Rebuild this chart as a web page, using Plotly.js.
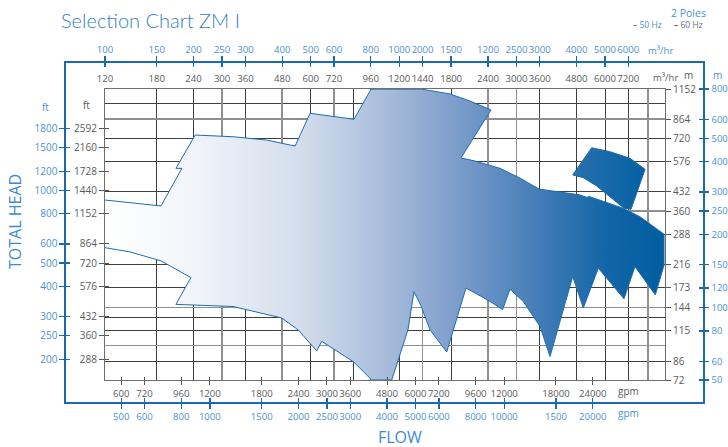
<!DOCTYPE html>
<html><head><meta charset="utf-8">
<script src="https://cdn.plot.ly/plotly-3.0.1.min.js"></script>
<style>html,body{margin:0;padding:0;background:#fff}#chart{width:728px;height:447px}</style>
</head><body><div id="chart"></div>
<script>
// Envelope of the ZM I range, 60 Hz units: flow in m3/hr, head in m
const mainFlow = [120,186,219,209,243,327,425,531,597,842,962,1430,1785,2087,2459,2022,1944,2170,2639,3085,3580,4933,5212,5294,6907,7890,9522,9522,8896,7586,6961,5695,5063,4660,3902,3608,3166,2853,2694,2402,2120,2022,1739,1527,1422,1346,1284,1131,967,838,671,654,629,544,478,327,209,235,186,146,120];
const mainHead = [400,378,541,541,743,731,708,669,914,863,1150,1150,1099,1027,943,638,597,580,541,493,444,420,410,414,370,341,289,215,162,212,156,209,143,193,90,120,152,171,141,154,168,173,94,116,146,167,116,72,72,85.7,102,104,95,116,130,145,148,191,224,244,254];
// separate upper piece
const pieceFlow = [4660,5407,6238,7295,8207,7352,6961,6238,5624,5063,4660];
const pieceHead = [508,658,634,595,536,366,370,413,457,495,508];

// axis ticks
const flow60Ticks = [120,180,240,300,360,480,600,720,960,1200,1440,1800,2400,3000,3600,4800,6000,7200];
const flow50Labels = ['100','150','200','250','300','400','500','600','800','1000','2000','1500','1200','2500','3000','4000','5000','6000'];
const gpm60Ticks = [600,720,960,1200,1800,2400,3000,3600,4800,6000,7200,9600,12000,18000,24000];
const gpm50Labels = ['500','600','800','1000','1500','2000','2500','3000','4000','5000','6000','8000','10000','1500','20000'];
const ft60Ticks = [288,360,432,576,720,864,1152,1440,1728,2160,2592];
const ft50Labels = ['200','250','300','400','500','600','800','1000','1200','1500','1800'];
const m60Ticks = [72,86,115,144,173,216,288,360,432,576,720,864,1152];
const m50Labels = ['50','60','80','100','120','150','200','250','300','400','500','600','800'];

// grid
const gridFlowDark = [180,240,360,600,840,1200,1800,3600,4800,6000,7200];
const gridFlowLight = [300,480,720,960,1440,2400,3000,8400];
const gridHeadDark = [1000,720,576,432,288,216,173,130,115,86];
const gridHeadLight = [864,360,144,100];

const GPM = 4.403, FT = 3.281;
const XR = [2.07918, 3.98200], YR = [1.85733, 3.06145];
const XRO = [1.94666, 4.11112], YRO = [1.76630, 3.16904];
const DX = [0.06122, 0.94035], DY = [0.0649, 0.9233];

const grayFont = {family:'Open Sans, sans-serif', size:10, color:'#5a5a5a'};
const blueFont = {family:'Open Sans, sans-serif', size:10, color:'#4b91cf'};
const grayFontX = Object.assign({}, grayFont, {size:9.6});
const blueFontX = Object.assign({}, blueFont, {size:9.6});
const BLUE = '#1b6aad';

const gradScale = [[0,'#ffffff'],[0.17,'#f0f3f9'],[0.35,'#d3ddec'],[0.5,'#a8bddb'],[0.62,'#809fcb'],[0.71,'#5d8bc0'],[0.8,'#3a78b3'],[0.89,'#1467a8'],[1,'#005d9f']];

const traces = [
  {type:'scatter', mode:'lines', x:mainFlow, y:mainHead, fill:'toself',
   fillgradient:{type:'horizontal', colorscale:gradScale},
   line:{color:'#1e6db0', width:1}, xaxis:'x', yaxis:'y', hoverinfo:'skip', showlegend:false},
  {type:'scatter', mode:'lines', x:pieceFlow, y:pieceHead, fill:'toself',
   fillgradient:{type:'horizontal', colorscale:[[0,'#2a70ae'],[1,'#0461a2']]},
   line:{color:'#1a69aa', width:1}, xaxis:'x', yaxis:'y', hoverinfo:'skip', showlegend:false}
];
// invisible anchor traces so that every axis pair exists as a subplot
[['x2','y2'],['x3','y'],['x4','y'],['x9','y'],['x','y3'],['x','y4'],['x','y9'],
 ['x5','y5'],['x6','y5'],['x7','y5'],['x8','y5'],['x5','y6'],['x5','y7'],['x5','y8']].forEach(p => {
  traces.push({type:'scatter', mode:'markers', x:[1000], y:[300], xaxis:p[0], yaxis:p[1],
               marker:{opacity:0, size:1}, hoverinfo:'skip', showlegend:false});
});

const base = {type:'log', visible:true, fixedrange:true, zeroline:false, showgrid:false, tickangle:0, automargin:false};
function ax(o){ return Object.assign({}, base, o); }

const gpmPos = gpm60Ticks.map(g => g / GPM);
const ftPos = ft60Ticks.map(f => f / FT);

function ann(text, x, y, font, extra){
  return Object.assign({text:text, xref:'paper', yref:'paper', x:x, y:y, xanchor:'center', yanchor:'middle',
                        showarrow:false, font:font}, extra || {});
}

const layout = {
  width:728, height:447,
  margin:{l:66, r:25, t:63, b:45, pad:0},
  paper_bgcolor:'#ffffff', plot_bgcolor:'rgba(0,0,0,0)',
  showlegend:false,
  title:{text:'Selection Chart ZM I', x:61/728, xref:'container', xanchor:'left',
         y:1-21/447, yref:'container', yanchor:'middle',
         font:{family:'Lato, sans-serif', size:20, color:'#3580c2', weight:300}},
  // inner grid / frame
  xaxis: ax({range:XR, domain:DX, anchor:'y', tickvals:gridFlowDark, showticklabels:false, ticks:'',
             showgrid:true, gridcolor:'#3f3f3f', gridwidth:1, showline:true, linecolor:'#6e6e6e', linewidth:1.3, mirror:true}),
  yaxis: ax({range:YR, domain:DY, anchor:'x', tickvals:gridHeadDark, showticklabels:false, ticks:'',
             showgrid:true, gridcolor:'#3f3f3f', gridwidth:1, showline:true, linecolor:'#6e6e6e', linewidth:1.3, mirror:true}),
  xaxis2: ax({range:XR, overlaying:'x', anchor:'y', tickvals:gridFlowLight, showticklabels:false, ticks:'',
             showgrid:true, gridcolor:'#8f8f8f', gridwidth:1.4}),
  yaxis2: ax({range:YR, overlaying:'y', anchor:'x', tickvals:gridHeadLight, showticklabels:false, ticks:'',
             showgrid:true, gridcolor:'#8f8f8f', gridwidth:1.4}),
  // inner labelled axes (60 Hz)
  xaxis3: ax({range:XR, overlaying:'x', anchor:'y', side:'top', tickvals:flow60Ticks, ticktext:flow60Ticks.map(String),
             ticks:'outside', ticklen:2, tickcolor:'rgba(0,0,0,0)', tickfont:grayFontX}),
  xaxis4: ax({range:XR, overlaying:'x', anchor:'y', side:'bottom', tickvals:gpmPos, ticktext:gpm60Ticks.map(String),
             ticks:'outside', ticklen:4, tickcolor:'#555', tickwidth:1, tickfont:grayFontX}),
  xaxis9: ax({range:XR, overlaying:'x', anchor:'y', side:'bottom', tickvals:gpmPos, showticklabels:false,
             ticks:'inside', ticklen:3, tickcolor:'#555', tickwidth:1}),
  yaxis3: ax({range:YR, overlaying:'y', anchor:'x', side:'left', tickvals:ftPos, ticktext:ft60Ticks.map(String),
             ticks:'outside', ticklen:5, tickcolor:'#555', tickwidth:1, tickfont:grayFont}),
  yaxis9: ax({range:YR, overlaying:'y', anchor:'x', side:'left', tickvals:ftPos, showticklabels:false,
             ticks:'inside', ticklen:4, tickcolor:'#555', tickwidth:1}),
  yaxis4: ax({range:YR, overlaying:'y', anchor:'x', side:'right', tickvals:m60Ticks, ticktext:m60Ticks.map(String),
             ticks:'outside', ticklen:5, tickcolor:'#555', tickwidth:1, tickfont:grayFont}),
  // outer frame axes (50 Hz)
  xaxis5: ax({range:XRO, domain:[0,1], anchor:'y5', side:'top', tickvals:flow60Ticks, ticktext:flow50Labels,
             ticks:'outside', ticklen:5, tickcolor:BLUE, tickwidth:1.3, tickfont:blueFontX,
             showline:true, linecolor:BLUE, linewidth:1.6}),
  xaxis7: ax({range:XRO, overlaying:'x5', anchor:'y5', side:'top', tickvals:flow60Ticks, showticklabels:false,
             ticks:'inside', ticklen:4, tickcolor:BLUE, tickwidth:1.3}),
  xaxis6: ax({range:XRO, overlaying:'x5', anchor:'y5', side:'bottom', tickvals:gpmPos, ticktext:gpm50Labels,
             ticks:'outside', ticklen:5, tickcolor:BLUE, tickwidth:1.3, tickfont:blueFontX,
             showline:true, linecolor:BLUE, linewidth:1.6}),
  xaxis8: ax({range:XRO, overlaying:'x5', anchor:'y5', side:'bottom', tickvals:gpmPos, showticklabels:false,
             ticks:'inside', ticklen:4, tickcolor:BLUE, tickwidth:1.3}),
  yaxis5: ax({range:YRO, domain:[0,1], anchor:'x5', side:'left', tickvals:ftPos, ticktext:ft50Labels,
             ticks:'outside', ticklen:5, tickcolor:BLUE, tickwidth:1.3, tickfont:blueFont,
             showline:true, linecolor:BLUE, linewidth:1.6}),
  yaxis7: ax({range:YRO, overlaying:'y5', anchor:'x5', side:'left', tickvals:ftPos, showticklabels:false,
             ticks:'inside', ticklen:4, tickcolor:BLUE, tickwidth:1.3}),
  yaxis6: ax({range:YRO, overlaying:'y5', anchor:'x5', side:'right', tickvals:m60Ticks, ticktext:m50Labels,
             ticks:'outside', ticklen:4, tickcolor:BLUE, tickwidth:1.3,
             tickfont:Object.assign({}, blueFont, {size:9.5}), ticklabelstandoff:1,
             showline:true, linecolor:BLUE, linewidth:1.6}),
  yaxis8: ax({range:YRO, overlaying:'y5', anchor:'x5', side:'right', tickvals:m60Ticks, showticklabels:false,
             ticks:'inside', ticklen:4, tickcolor:BLUE, tickwidth:1.3}),
  annotations: [
    ann('TOTAL HEAD', -0.0801, 0.5339, {family:'Open Sans, sans-serif', size:16, color:'#3f8ad0'}, {textangle:-90}),
    ann('FLOW', 0.5243, -0.1032, {family:'Open Sans, sans-serif', size:16, color:'#3f8ad0'}),
    ann('m³/hr', 0.9419, 0.9558, Object.assign({}, grayFont, {size:9.5})),
    ann('m³/hr', 0.9325, 1.0383, Object.assign({}, blueFont, {size:9.5})),
    ann('m', 0.978, 0.9646, grayFont),
    ann('m', 1.022, 0.9646, blueFont),
    ann('gpm', 0.8838, 0.0324, grayFont),
    ann('gpm', 0.8838, -0.0324, blueFont),
    ann('ft', 0.0314, 0.876, grayFont),
    ann('ft', -0.0314, 0.870, blueFont),
    ann('2 Poles', 0.9765, 1.1475, {family:'Open Sans, sans-serif', size:10.5, color:'#4b91cf'}),
    ann('<b>–</b> 50 Hz', 0.9136, 1.1125, {family:'Open Sans, sans-serif', size:8.5, color:'#4b91cf'}),
    ann('<b>–</b> 60 Hz', 0.9765, 1.1125, {family:'Open Sans, sans-serif', size:8.5, color:'#6a6a6a'})
  ]
};

Plotly.newPlot('chart', traces, layout, {staticPlot:true, displayModeBar:false});
</script></body></html>
